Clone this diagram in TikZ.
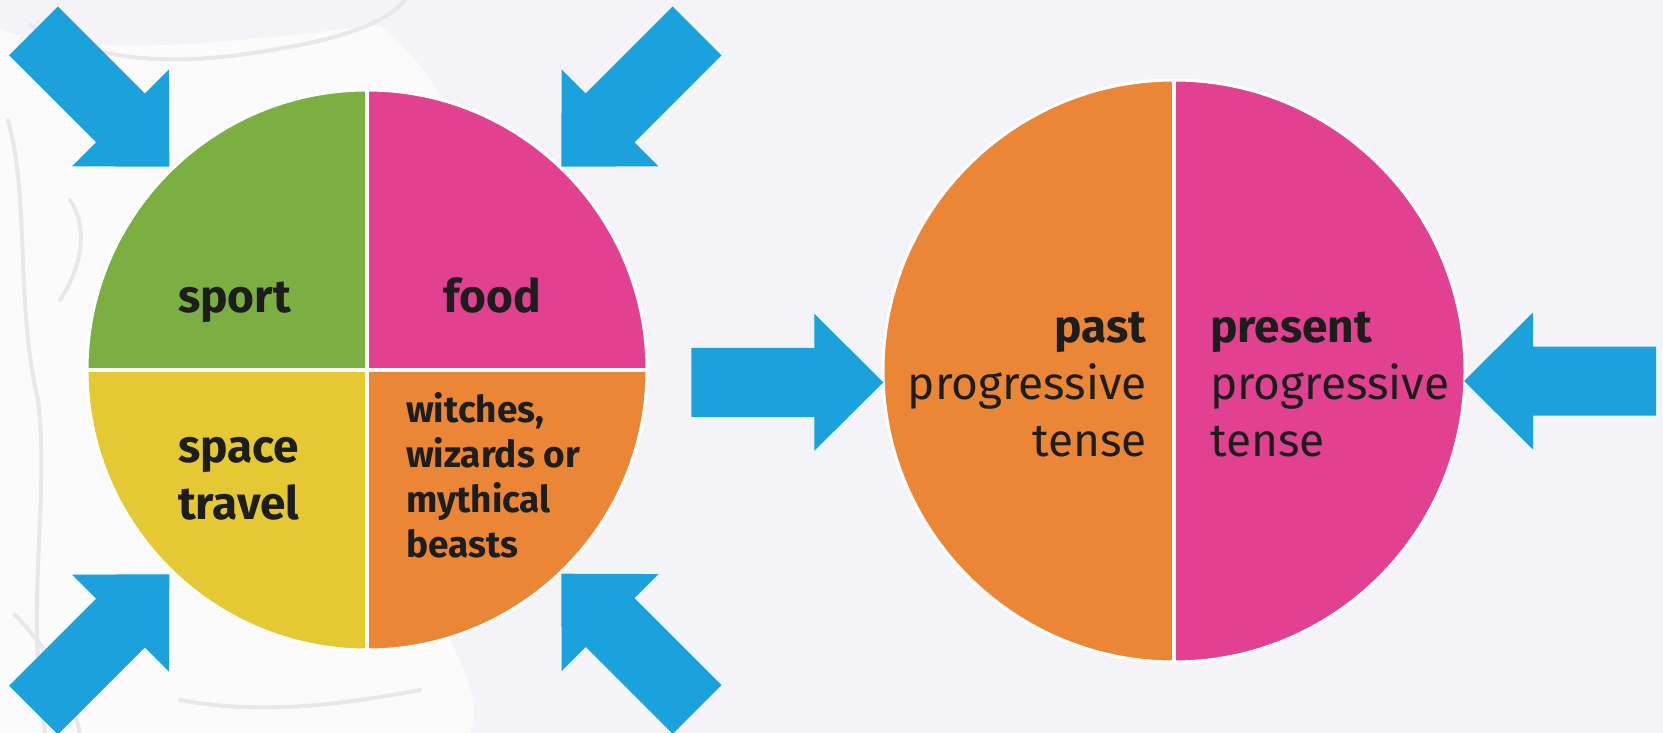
\documentclass[tikz,border=0pt]{standalone}
\usepackage{fontspec}
\setmainfont{Fira Sans}
\definecolor{bgc}{HTML}{F4F4F8}
\definecolor{qgreen}{HTML}{7BAF42}
\definecolor{qpink}{HTML}{E24192}
\definecolor{qyellow}{HTML}{E4C834}
\definecolor{qorange}{HTML}{EB8636}
\definecolor{arrowblue}{HTML}{1BA1DB}
\definecolor{ink}{HTML}{1D1D1B}
\definecolor{sketch}{HTML}{E8E8EA}
\tikzset{
  blockarrow/.pic={\fill[arrowblue] (0,0) -- (-69,-68.5) -- (-69,-34.5) -- (-192,-34.5)
      -- (-192,34.5) -- (-69,34.5) -- (-69,68.5) -- cycle;},
  txt/.style={text=ink, inner sep=0pt, font=\fontsize{46}{57}\selectfont},
  boldtxt/.style={txt, font=\fontsize{46}{57}\selectfont\bfseries},
  smalltxt/.style={text=ink, inner sep=0pt, font=\fontsize{37}{45}\selectfont\bfseries},
  divider/.style={draw=white, line width=4pt},
  rim/.style={circle, draw=white, line width=3pt, inner sep=0pt},
}
\begin{document}
\begin{tikzpicture}[x=1pt,y=-1pt]
\fill[bgc] (0,0) rectangle (1663,733);
\useasboundingbox (0,0) rectangle (1663,733);
% faint background sketch
\fill[white, opacity=0.7] (0,30) .. controls (100,60) and (250,40) .. (380,25)
  .. controls (420,60) and (440,90) .. (450,120) -- (450,640)
  .. controls (470,680) and (480,710) .. (470,733) -- (0,733) -- cycle;
\begin{scope}[sketch, line width=4pt, line cap=round]
  \draw (30,25) .. controls (120,75) and (220,60) .. (300,45) .. controls (350,35) and (390,20) .. (405,0);
  \draw (8,120) .. controls (30,200) and (15,300) .. (38,400) .. controls (50,500) and (25,600) .. (45,733);
  \draw (70,200) .. controls (90,230) and (80,270) .. (60,300);
  \draw (180,700) .. controls (260,715) and (340,705) .. (420,690);
  \draw (15,615) .. controls (50,650) and (70,690) .. (80,733);
\end{scope}
% left circle
\coordinate (L) at (367,370);
\begin{scope}
  \clip (L) circle (280);
  \fill[qgreen]  (L) rectangle ++(-280,-280);
  \fill[qpink]   (L) rectangle ++(280,-280);
  \fill[qyellow] (L) rectangle ++(-280,280);
  \fill[qorange] (L) rectangle ++(280,280);
\end{scope}
\draw[divider] ([yshift=-280pt]L) -- ([yshift=280pt]L);
\draw[divider] ([xshift=-280pt]L) -- ([xshift=280pt]L);
\node[rim, minimum size=560pt] (lc) at (L) {};
% right circle
\coordinate (R) at (1174,371);
\begin{scope}
  \clip (R) circle (291);
  \fill[qorange] ([xshift=-291pt,yshift=-291pt]R) rectangle ([yshift=291pt]R);
  \fill[qpink]   ([yshift=-291pt]R) rectangle ([xshift=291pt,yshift=291pt]R);
\end{scope}
\draw[divider] ([yshift=-291pt]R) -- ([yshift=291pt]R);
\node[rim, minimum size=582pt] (rc) at (R) {};
% labels (base anchor = baseline of last line)
\node[boldtxt, anchor=base] (sport) at (234.5,312.6) {sport};
\node[boldtxt, anchor=base] (food) at (492,312.6) {food};
\node[boldtxt, anchor=base west, align=left] (space) at (178,519) {space\\travel};
\node[smalltxt, anchor=base west, align=left] (witch) at (406,557.5) {witches,\\wizards or\\mythical\\beasts};
\node[txt, anchor=base east, align=right] (past) at (1147,456) {\textbf{past}\\progressive\\tense};
\node[txt, anchor=base west, align=left] (present) at (1210,456) {\textbf{present}\\progressive\\tense};
% arrows
\pic[rotate=-45] at (169.3,166.7) {blockarrow};
\pic[rotate=-135] at (561.3,166.7) {blockarrow};
\pic[rotate=45] at (169.3,574.3) {blockarrow};
\pic[rotate=135] at (561.3,573.7) {blockarrow};
\pic at (883.3,382.3) {blockarrow};
\pic[rotate=180] at (1464,381) {blockarrow};
\end{tikzpicture}
\end{document}
